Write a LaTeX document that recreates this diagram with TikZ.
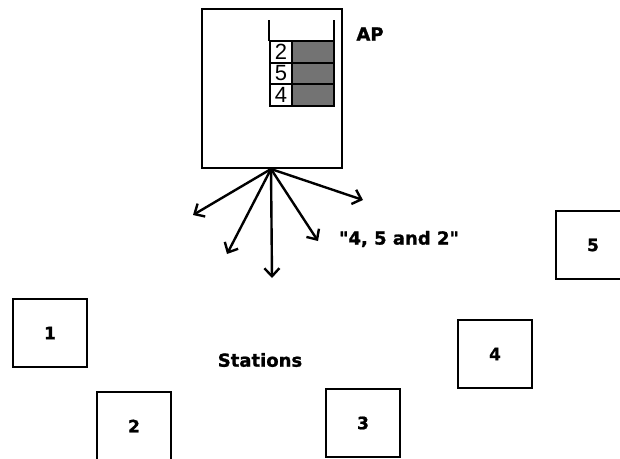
\documentclass[tikz,border=0pt]{standalone}
\usepackage{fontspec}
\setmainfont{Liberation Sans}
\newfontfamily\lblfont{DejaVu Sans Bold}[FakeBold=1.2]
\usetikzlibrary{arrows.meta}
\begin{document}
\begin{tikzpicture}[x=1pt,y=-1pt,
  box/.style={draw,line width=2.6pt},
  stbox/.style={draw,line width=2.6pt,minimum width=74pt,minimum height=68pt,font=\lblfont\fontsize{17}{19}\selectfont,inner sep=0pt},
  lbl/.style={font=\lblfont\fontsize{18}{20}\selectfont,inner sep=0pt},
  qnum/.style={font=\fontsize{22}{24}\selectfont,inner sep=0pt},
  qline/.style={line width=2.2pt},
  arr/.style={line width=2.4pt,-{Straight Barb[length=8pt,width=15pt,line width=2.4pt]}}]
\useasboundingbox (0,0) rectangle (620,458);
% AP box
\draw[box] (202,9) rectangle (342,168);
\coordinate (src) at (271,169);
% queue
\draw[qline] (269,20) -- (269,41);
\draw[qline] (334,20) -- (334,41);
\fill[black!55] (292,41) rectangle (334,106);
\draw[qline] (270,41) rectangle (334,106);
\draw[qline] (270,62.7) -- (334,62.7);
\draw[qline] (270,84.3) -- (334,84.3);
\draw[qline] (292,41) -- (292,106);
\node[qnum] (q1) at (281,52) {2};
\node[qnum] (q2) at (281,73.5) {5};
\node[qnum] (q3) at (281,95) {4};
\node[lbl] (ap) at (370,34) {AP};
% arrows
\coordinate (e1) at (193,215);
\coordinate (e2) at (227,254);
\coordinate (e3) at (272,278);
\coordinate (e4) at (318,241);
\coordinate (e5) at (363,200);
\foreach \e in {e1,e2,e3,e4,e5} \draw[arr] (src) -- (\e);
\node[lbl] (msg) at (399,239) {\textquotedbl 4, 5 and 2\textquotedbl};
% stations
\node[stbox] (s1) at (50,333) {1};
\node[stbox] (s2) at (134,426) {2};
\node[stbox] (s3) at (363,423) {3};
\node[stbox] (s4) at (495,354) {4};
\node[stbox] (s5) at (593,245) {5};
\node[lbl] (st) at (260,360) {Stations};
\end{tikzpicture}
\end{document}
